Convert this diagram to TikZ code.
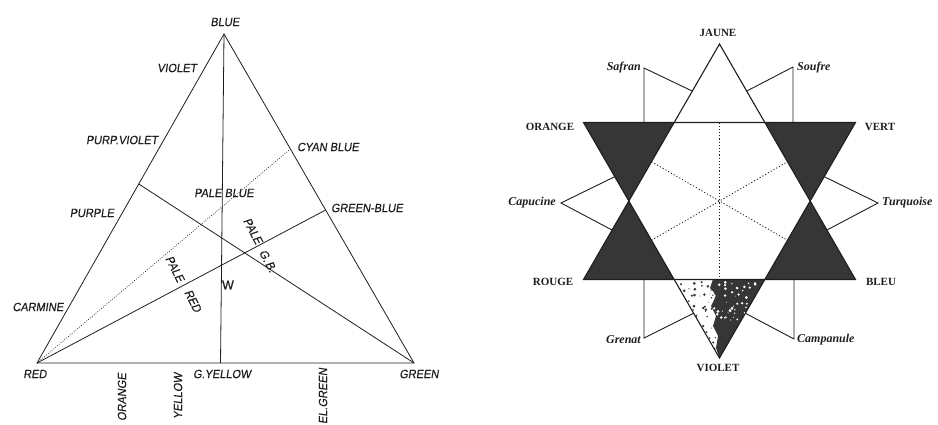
\documentclass[tikz,border=0pt]{standalone}
\usepackage{fontspec}
\usetikzlibrary{calc}
\newfontfamily\lfont[FakeStretch=0.92,FakeSlant=0.15,FakeBold=0.35]{Liberation Sans}
\newfontfamily\wfont[FakeStretch=0.95,FakeBold=0.8]{Liberation Sans}
\newfontfamily\rfont{Liberation Serif}
\definecolor{ink}{HTML}{1E1E1E}
\definecolor{darkfill}{HTML}{363636}
\tikzset{
  lt/.style={font=\lfont\fontsize{12}{12}\selectfont, inner sep=0pt, text=ink},
  rt/.style={font=\rfont\bfseries\fontsize{11}{11}\selectfont, inner sep=0pt, text=ink},
  rs/.style={font=\rfont\bfseries\itshape\fontsize{12}{12}\selectfont, inner sep=0pt, text=ink},
  ledge/.style={draw=ink, line width=0.8pt, line join=miter},
  redge/.style={draw=ink, line width=1.1pt, line join=miter},
  ldot/.style={draw=ink, line width=0.7pt, dash pattern=on 0.8pt off 1.6pt},
  rdot/.style={draw=ink, line width=0.8pt, dash pattern=on 1.2pt off 2pt},
  bracket/.style={draw=ink, line width=0.9pt},
}
\begin{document}
\begin{tikzpicture}[x=1pt,y=-1pt]
\useasboundingbox (0,0) rectangle (938,425);
% ---------------- left triangle ----------------
\coordinate (B) at (224,34);
\coordinate (R) at (37,363);
\coordinate (G) at (414,363);
\coordinate (GY) at (220.5,363);
\coordinate (PU) at ($(R)!0.5441!(B)$);
\coordinate (GB) at ($(B)!0.5350!(G)$);
\coordinate (CB) at ($(B)!0.3495!(G)$);
\coordinate (W) at (221,265);
\draw[ldot] (R) -- (CB);
\draw[ledge] (R) -- (B) -- (G) -- cycle;
\draw[ledge] (B) -- (GY);
\draw[ledge] (PU) -- (G);
\draw[ledge] (R) -- (GB);
\node[lt] (lblue) at (225,22) {BLUE};
\node[lt] (lviolet) at (177,68) {VIOLET};
\node[lt] (lpv) at (122,140) {PURP.VIOLET};
\node[lt] (lcb) at (328,147) {CYAN BLUE};
\node[lt] (lpb) at (224,193) {PALE BLUE};
\node[lt] (lgb) at (367,208) {GREEN-BLUE};
\node[lt] (lpu) at (92,213) {PURPLE};
\node[lt, rotate=-62] (lpgb1) at (253,231) {PALE};
\node[lt, rotate=-62] (lpgb2) at (268,261) {G.\kern1.5pt B.};
\node[lt, rotate=-63] (lpr1) at (175,269) {PALE};
\node[lt, rotate=-63] (lpr2) at (193,301) {RED};
\node[lt, font=\wfont\fontsize{13}{13}\selectfont] (lw) at (228,285) {W};
\node[lt] (lcar) at (38,307) {CARMINE};
\node[lt] (lred) at (35,374) {RED};
\node[lt] (lgy) at (222,374) {G.YELLOW};
\node[lt] (lgreen) at (419,374) {GREEN};
\node[lt, rotate=90] (lor) at (122,397) {ORANGE};
\node[lt, rotate=90] (lye) at (178,396) {YELLOW};
\node[lt, rotate=90] (leg) at (323,396) {EL.GREEN};
% ---------------- right hexagram ----------------
\coordinate (C) at (719.5,201);
\coordinate (J) at (719.5,44);
\coordinate (RO) at (583.5,279.5);
\coordinate (BL) at (855.5,279.5);
\coordinate (OR) at (583.5,122.5);
\coordinate (VE) at (855.5,122.5);
\coordinate (VI) at (719.5,358);
\coordinate (htl) at (674.2,122.5);
\coordinate (htr) at (764.8,122.5);
\coordinate (hl) at (628.8,201);
\coordinate (hr) at (810.2,201);
\coordinate (hbl) at (674.2,279.5);
\coordinate (hbr) at (764.8,279.5);
% dark points
\fill[darkfill] (OR) -- (htl) -- (hl) -- cycle;
\fill[darkfill] (RO) -- (hl) -- (hbl) -- cycle;
\fill[darkfill] (VE) -- (htr) -- (hr) -- cycle;
\fill[darkfill] (BL) -- (hr) -- (hbr) -- cycle;
% mottled violet point
\begin{scope}
  \clip (hbl) -- (hbr) -- (VI) -- cycle;
  \fill[darkfill] (713,279) -- (710,288) -- (716,296) -- (711,306) -- (716,316)
     -- (713,326) -- (718,336) -- (716,348) -- (720,360) -- (770,279) -- cycle;
  \pgfmathsetseed{7}
  \foreach \i in {1,...,80}{
    \pgfmathsetmacro{\px}{676+rnd*40}
    \pgfmathsetmacro{\py}{281+rnd*72}
    \pgfmathsetmacro{\pr}{0.4+rnd*1.2}
    \fill[darkfill] (\px,\py) circle[radius=\pr];
  }
  \foreach \i in {1,...,45}{
    \pgfmathsetmacro{\px}{712+rnd*48}
    \pgfmathsetmacro{\py}{281+rnd*40}
    \pgfmathsetmacro{\pr}{0.4+rnd*1.2}
    \fill[white] (\px,\py) circle[radius=\pr];
  }
\end{scope}
% dotted diameters of inner hexagon
\draw[rdot] ($(htl)!0.5!(hl)$) -- ($(hbr)!0.5!(hr)$);
\draw[rdot] ($(hbl)!0.5!(hl)$) -- ($(htr)!0.5!(hr)$);
\draw[rdot] ($(htl)!0.5!(htr)$) -- ($(hbl)!0.5!(hbr)$);
% outlines
\draw[redge] (J) -- (RO) -- (BL) -- cycle;
\draw[redge] (OR) -- (VE) -- (VI) -- cycle;
% intermediate colour brackets
\coordinate (saC) at (644,68);
\coordinate (saF) at (644,122.5);
\coordinate (saS) at ($(J)!0.2!(RO)$);
\draw[bracket] (saF) -- (saC) -- (saS);
\coordinate (soC) at (793,67);
\coordinate (soF) at (793,122.5);
\coordinate (soS) at ($(J)!0.2!(BL)$);
\draw[bracket] (soF) -- (soC) -- (soS);
\coordinate (caC) at (561,203);
\coordinate (caA) at ($(OR)!0.23!(VI)$);
\coordinate (caB) at ($(J)!0.79!(RO)$);
\draw[bracket] (caA) -- (caC) -- (caB);
\coordinate (tuC) at (878,203);
\coordinate (tuA) at ($(VE)!0.23!(VI)$);
\coordinate (tuB) at ($(J)!0.79!(BL)$);
\draw[bracket] (tuA) -- (tuC) -- (tuB);
\coordinate (grC) at (644,338);
\coordinate (grF) at (644,279.5);
\coordinate (grS) at ($(OR)!0.81!(VI)$);
\draw[bracket] (grF) -- (grC) -- (grS);
\coordinate (cpC) at (794,339);
\coordinate (cpF) at (794,279.5);
\coordinate (cpS) at ($(VE)!0.81!(VI)$);
\draw[bracket] (cpF) -- (cpC) -- (cpS);
% labels
\node[rt] (rj) at (718,33) {JAUNE};
\node[rt] (ror) at (550,127) {ORANGE};
\node[rt] (rve) at (880,127) {VERT};
\node[rt] (rro) at (553,282) {ROUGE};
\node[rt] (rbl) at (881,282) {BLEU};
\node[rt] (rvi) at (718,368) {VIOLET};
\node[rs, anchor=east] (rsa) at (641,68) {Safran};
\node[rs, anchor=west] (rso) at (797,68) {Soufre};
\node[rs, anchor=east] (rca) at (556,203) {Capucine};
\node[rs, anchor=west] (rtu) at (882,203) {Turquoise};
\node[rs, anchor=east] (rgr) at (641,340) {Grenat};
\node[rs, anchor=west] (rcp) at (797,340) {Campanule};
\end{tikzpicture}
\end{document}
